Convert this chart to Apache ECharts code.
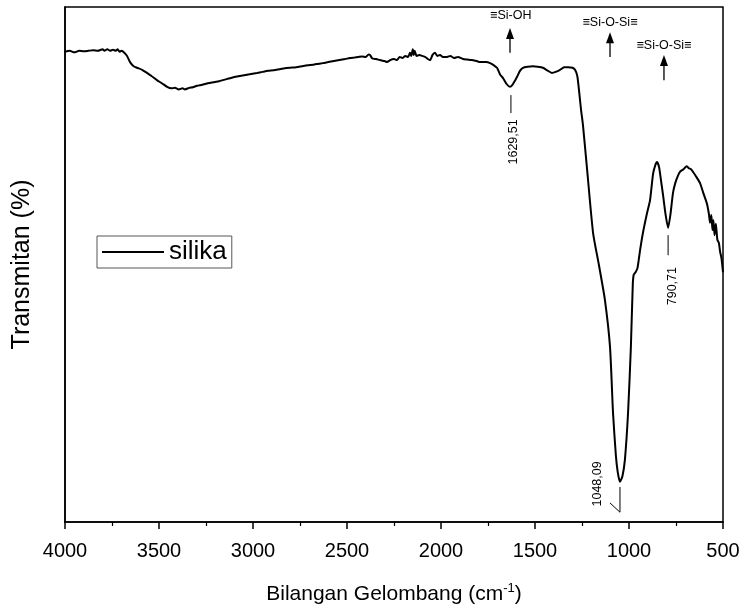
<!DOCTYPE html>
<html><head><meta charset="utf-8">
<script src="https://cdn.jsdelivr.net/npm/echarts@6/dist/echarts.min.js"></script>
<style>html,body{margin:0;padding:0;background:#fff}#c{width:748px;height:610px}</style>
</head><body><div id="c"></div>
<script>
// wavenumber (cm-1)
var wavenumbers = [4000,3975,3950,3925,3900,3875,3850,3825,3800,3790,3775,3760,3745,3730,3720,3710,3700,3690,3670,3654,3635,3617,3590,3564,3540,3511,3485,3457,3435,3415,3395,3375,3362,3340,3320,3298,3270,3240,3210,3180,3160,3130,3100,3070,3040,3010,2979,2950,2920,2890,2860,2830,2803,2770,2740,2710,2680,2650,2628,2600,2570,2540,2510,2484,2460,2440,2420,2400,2385,2378,2365,2345,2325,2300,2287,2270,2250,2234,2220,2205,2190,2175,2165,2158,2150,2145,2140,2130,2115,2100,2085,2070,2058,2045,2032,2020,2005,1990,1968,1950,1930,1910,1883,1860,1835,1810,1792,1760,1739,1720,1702,1686,1670,1650,1633,1620,1605,1596,1580,1564,1540,1511,1485,1458,1435,1410,1390,1367,1345,1324,1300,1287,1275,1265,1255,1245,1224,1191,1160,1128,1101,1085,1070,1060,1048,1035,1022,1005,990,980,975,965,955,941,925,904,888,872,860,851,840,830,819,805,792,780,766,754,740,729,710,700,692,682,670,660,645,622,605,586,575,569,562,556,551,545,538,530,522,515,508,500];
// transmittance (%)
var transmittance = [91.3,91.5,91.2,91.5,91.4,91.5,91.6,91.5,91.8,91.5,91.8,91.5,91.7,91.5,91.8,91.3,91.5,91.3,90.5,89.3,88.5,88.2,87.8,87.2,86.6,85.8,85.2,84.5,84.2,84.3,84.0,84.2,84.0,84.3,84.4,84.7,84.9,85.2,85.4,85.6,85.8,86.1,86.4,86.6,86.8,87.0,87.2,87.4,87.6,87.7,87.9,88.1,88.2,88.3,88.5,88.7,88.8,89.0,89.1,89.3,89.5,89.7,89.9,90.1,90.2,90.3,90.4,90.3,90.8,90.7,90.0,89.9,89.7,89.5,89.3,89.7,89.9,89.7,90.3,90.1,90.5,90.3,91.1,90.5,91.8,90.7,91.5,90.5,90.7,90.5,90.3,89.9,89.7,90.7,91.1,90.5,90.7,90.3,90.3,90.5,90.1,90.3,89.9,89.8,89.7,89.5,89.3,89.3,89.1,88.7,88.2,86.9,86.2,85.0,84.5,84.9,85.8,86.4,87.6,88.2,88.4,88.5,88.4,88.2,87.7,87.2,87.4,87.8,88.3,88.3,88.2,87.8,86.6,83.5,80.0,77.1,68.9,56.1,49.9,43.1,34.0,21.2,13.0,9.7,7.8,8.9,12.0,21.2,34.0,46.0,48.0,48.5,49.3,52.8,56.3,60.0,62.5,67.6,69.3,69.9,68.9,66.4,63.5,59.6,57.1,59.6,63.9,65.8,67.2,68.0,68.5,68.9,69.1,68.7,68.5,68.0,67.2,65.8,63.9,61.9,59.8,58.1,59.6,56.7,58.6,55.7,57.9,54.8,54.2,52.4,51.2,48.5];
var xTicks = [4000,3500,3000,2500,2000,1500,1000,500];
var seriesName = 'silika';
// annotations [wavenumber, transmittance]
var groupLabels = ['≡Si-OH','≡Si-O-Si≡','≡Si-O-Si≡'];
var groupLabelPos = [[1629,98.4],[1101,96.9],[814,92.6]];
var groupArrowFrom = [[1633,91.1],[1101,90.3],[814,85.8]];
var groupArrowTo = [[1633,95.9],[1101,95.1],[814,90.7]];
var peakLabels = ['1629,51','790,71','1048,09'];
var peakLabelPos = [[1612,73.8],[771,45.8],[1165,7.4]];
var peakLineFrom = [[1628,82.9],[792,55.7],[1048,6.8]];
var peakLineTo = [[1628,79.4],[792,51.8],[1048,1.9]];
var peakLineExtra = [null,null,[1101,3.7]];

var FONT = "'Liberation Sans', Arial, sans-serif";
var chart = echarts.init(document.getElementById('c'));
var data = wavenumbers.map(function(w,i){return [w, transmittance[i]];});
chart.setOption({
  animation:false,
  backgroundColor:'#fff',
  grid:{left:65,right:25,top:7,bottom:88,show:true,borderColor:'#000',borderWidth:1.5,backgroundColor:'transparent'},
  legend:{show:true,left:97,top:236,orient:'vertical',itemWidth:62,itemHeight:2,itemGap:5,
    borderColor:'#555',borderWidth:1,padding:[3,5,3,5],
    textStyle:{fontSize:26,color:'#000',fontFamily:FONT},
    data:[{name:seriesName,icon:'rect'}]},
  xAxis:{type:'value',inverse:true,min:500,max:4000,interval:500,
    name:'Bilangan Gelombang (cm{sup|-1})',nameLocation:'middle',nameGap:60,
    nameTextStyle:{fontSize:21,color:'#000',fontFamily:FONT,rich:{sup:{fontSize:13,fontFamily:FONT,color:'#000',padding:[0,0,12,0]}}},
    axisLine:{show:true,lineStyle:{color:'#000',width:1.5}},
    axisTick:{show:true,inside:false,length:7,lineStyle:{color:'#000',width:1.5}},
    minorTick:{show:true,splitNumber:2,length:4,lineStyle:{color:'#000',width:1.2}},
    axisLabel:{fontSize:20,color:'#000',fontFamily:FONT,margin:19,formatter:function(v){return String(v);}},
    splitLine:{show:false}},
  yAxis:{type:'value',min:0,max:100,
    name:'Transmitan (%)',nameLocation:'middle',nameGap:30,
    nameTextStyle:{fontSize:25,color:'#000',fontFamily:FONT},
    axisLine:{show:true,lineStyle:{color:'#000',width:1.5}},
    axisTick:{show:false},axisLabel:{show:false},splitLine:{show:false}},
  series:[{name:seriesName,type:'line',data:data,symbol:'none',smooth:0.2,
    lineStyle:{color:'#000',width:2},itemStyle:{color:'#000'}}]
});

function px(p){return chart.convertToPixel({gridIndex:0},p);}
var g = [];
for (var i=0;i<groupLabels.length;i++){
  var lp = px(groupLabelPos[i]);
  g.push({type:'text',x:lp[0],y:lp[1],style:{text:groupLabels[i],fontSize:12.5,fontFamily:FONT,fill:'#000',align:'center',verticalAlign:'middle'}});
  var a = px(groupArrowFrom[i]), b = px(groupArrowTo[i]);
  g.push({type:'line',shape:{x1:a[0],y1:a[1],x2:b[0],y2:b[1]+6},style:{stroke:'#000',lineWidth:1.3}});
  g.push({type:'polygon',shape:{points:[[b[0],b[1]],[b[0]-4,b[1]+11],[b[0]+4,b[1]+11]]},style:{fill:'#000'}});
}
for (var j=0;j<peakLabels.length;j++){
  var tp = px(peakLabelPos[j]);
  g.push({type:'text',x:tp[0],y:tp[1],rotation:Math.PI/2,style:{text:peakLabels[j],fontSize:12.5,fontFamily:FONT,fill:'#000',align:'center',verticalAlign:'middle'}});
  var f = px(peakLineFrom[j]), t = px(peakLineTo[j]);
  g.push({type:'line',shape:{x1:f[0],y1:f[1],x2:t[0],y2:t[1]},style:{stroke:'#000',lineWidth:1}});
  if (peakLineExtra[j]){
    var e = px(peakLineExtra[j]);
    g.push({type:'line',shape:{x1:t[0],y1:t[1],x2:e[0],y2:e[1]},style:{stroke:'#000',lineWidth:1}});
  }
}
chart.setOption({graphic:g});
</script></body></html>
